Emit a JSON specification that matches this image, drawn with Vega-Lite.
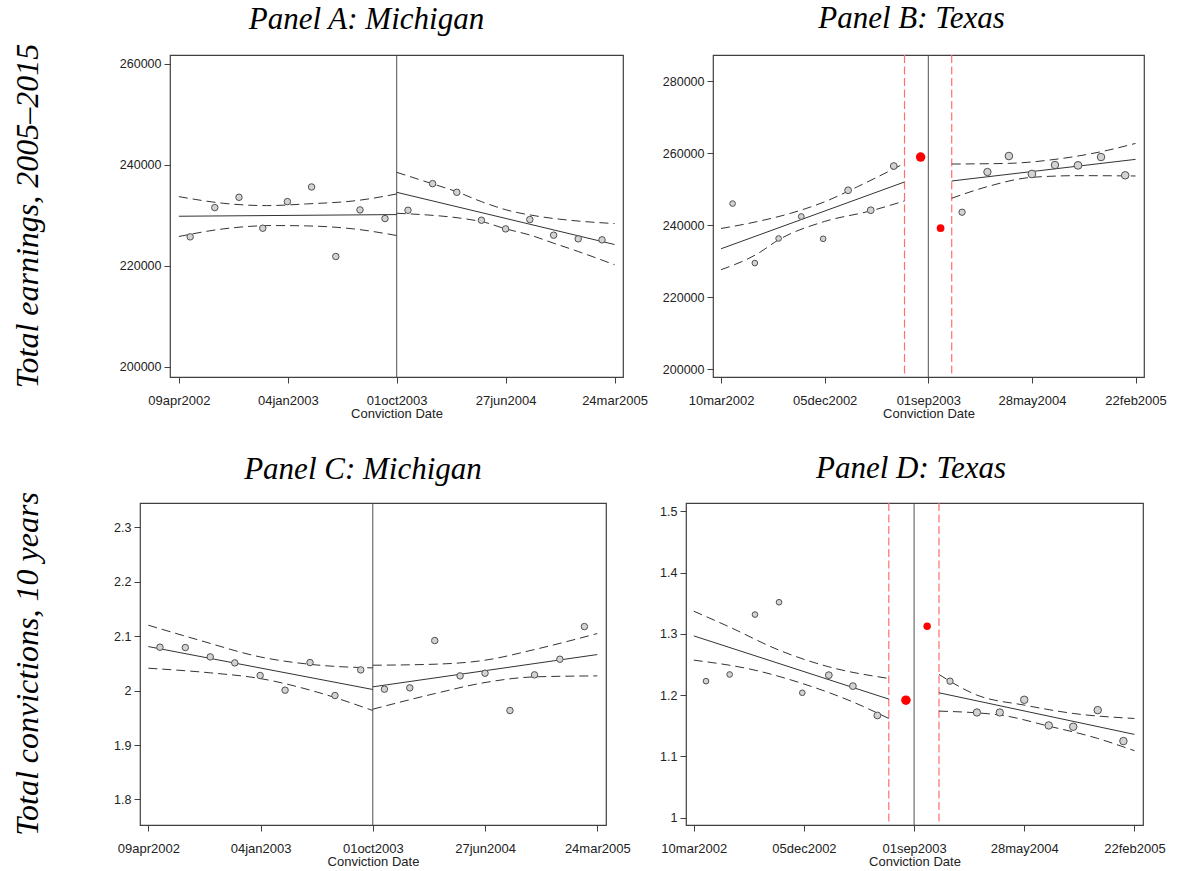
{
  "$schema": "https://vega.github.io/schema/vega-lite/v6.json",
  "background": "white",
  "padding": {"left": 11, "top": 2, "right": 5, "bottom": 0},
  "config": {
    "view": {"stroke": "#404040", "strokeWidth": 1.2},
    "title": {"font": "Liberation Serif", "fontStyle": "italic", "fontWeight": "normal", "fontSize": 31, "color": "#000000", "anchor": "middle", "baseline": "alphabetic", "frame": "group"},
    "axis": {"labelFont": "Liberation Sans", "labelFontSize": 13, "labelColor": "#222222", "tickColor": "#404040", "tickSize": 6, "domain": false, "grid": false, "titleFontWeight": "normal"},
    "axisX": {"labelPadding": 11, "titlePadding": 0, "titleFont": "Liberation Sans", "titleFontSize": 13, "titleColor": "#222222", "labelFlush": false, "labelOverlap": false},
    "axisY": {"labelPadding": 3, "labelFontSize": 12.5, "title": null}
  },
  "datasets": {
    "empty": [],
    "vlines": [
      {"panel": "A", "kind": "cutoff", "date": "2003-10-01"},
      {"panel": "C", "kind": "cutoff", "date": "2003-10-01"},
      {"panel": "B", "kind": "cutoff", "date": "2003-09-01"},
      {"panel": "B", "kind": "donut", "date": "2003-07-01"},
      {"panel": "B", "kind": "donut", "date": "2003-11-01"},
      {"panel": "D", "kind": "cutoff", "date": "2003-09-01"},
      {"panel": "D", "kind": "donut", "date": "2003-07-01"},
      {"panel": "D", "kind": "donut", "date": "2003-11-01"}
    ],
    "points": [
      {"panel": "A", "group": "main", "date": "2002-05-07", "value": 225724, "weight": 42},
      {"panel": "A", "group": "main", "date": "2002-07-07", "value": 231513, "weight": 42},
      {"panel": "A", "group": "main", "date": "2002-09-05", "value": 233552, "weight": 42},
      {"panel": "A", "group": "main", "date": "2002-11-03", "value": 227434, "weight": 42},
      {"panel": "A", "group": "main", "date": "2003-01-03", "value": 232697, "weight": 42},
      {"panel": "A", "group": "main", "date": "2003-03-04", "value": 235592, "weight": 42},
      {"panel": "A", "group": "main", "date": "2003-05-03", "value": 221842, "weight": 42},
      {"panel": "A", "group": "main", "date": "2003-07-02", "value": 231052, "weight": 42},
      {"panel": "A", "group": "main", "date": "2003-09-02", "value": 229342, "weight": 42},
      {"panel": "A", "group": "main", "date": "2003-10-29", "value": 230987, "weight": 42},
      {"panel": "A", "group": "main", "date": "2003-12-29", "value": 236250, "weight": 42},
      {"panel": "A", "group": "main", "date": "2004-02-27", "value": 234539, "weight": 42},
      {"panel": "A", "group": "main", "date": "2004-04-28", "value": 229013, "weight": 42},
      {"panel": "A", "group": "main", "date": "2004-06-27", "value": 227302, "weight": 42},
      {"panel": "A", "group": "main", "date": "2004-08-26", "value": 229145, "weight": 42},
      {"panel": "A", "group": "main", "date": "2004-10-24", "value": 226053, "weight": 42},
      {"panel": "A", "group": "main", "date": "2004-12-24", "value": 225329, "weight": 42},
      {"panel": "A", "group": "main", "date": "2005-02-21", "value": 225132, "weight": 42},
      {"panel": "C", "group": "main", "date": "2002-05-07", "value": 2.0797, "weight": 42},
      {"panel": "C", "group": "main", "date": "2002-07-07", "value": 2.0791, "weight": 42},
      {"panel": "C", "group": "main", "date": "2002-09-05", "value": 2.0619, "weight": 42},
      {"panel": "C", "group": "main", "date": "2002-11-03", "value": 2.0509, "weight": 42},
      {"panel": "C", "group": "main", "date": "2003-01-03", "value": 2.0277, "weight": 42},
      {"panel": "C", "group": "main", "date": "2003-03-04", "value": 2.0007, "weight": 42},
      {"panel": "C", "group": "main", "date": "2003-05-03", "value": 2.0515, "weight": 42},
      {"panel": "C", "group": "main", "date": "2003-07-02", "value": 1.9909, "weight": 42},
      {"panel": "C", "group": "main", "date": "2003-09-02", "value": 2.038, "weight": 42},
      {"panel": "C", "group": "main", "date": "2003-10-29", "value": 2.0026, "weight": 42},
      {"panel": "C", "group": "main", "date": "2003-12-29", "value": 2.005, "weight": 42},
      {"panel": "C", "group": "main", "date": "2004-02-27", "value": 2.0919, "weight": 42},
      {"panel": "C", "group": "main", "date": "2004-04-28", "value": 2.027, "weight": 42},
      {"panel": "C", "group": "main", "date": "2004-06-27", "value": 2.0319, "weight": 42},
      {"panel": "C", "group": "main", "date": "2004-08-26", "value": 1.9634, "weight": 42},
      {"panel": "C", "group": "main", "date": "2004-10-24", "value": 2.0289, "weight": 42},
      {"panel": "C", "group": "main", "date": "2004-12-24", "value": 2.0576, "weight": 42},
      {"panel": "C", "group": "main", "date": "2005-02-21", "value": 2.1176, "weight": 42},
      {"panel": "B", "group": "main", "date": "2002-04-09", "value": 246004, "weight": 32},
      {"panel": "B", "group": "main", "date": "2002-06-06", "value": 229468, "weight": 32},
      {"panel": "B", "group": "main", "date": "2002-08-07", "value": 236305, "weight": 32},
      {"panel": "B", "group": "main", "date": "2002-10-05", "value": 242401, "weight": 34},
      {"panel": "B", "group": "main", "date": "2002-12-01", "value": 236212, "weight": 32},
      {"panel": "B", "group": "main", "date": "2003-02-04", "value": 249699, "weight": 46},
      {"panel": "B", "group": "main", "date": "2003-04-04", "value": 244157, "weight": 46},
      {"panel": "B", "group": "main", "date": "2003-06-03", "value": 256443, "weight": 46},
      {"panel": "B", "group": "donut", "date": "2003-08-12", "value": 258937, "weight": 90},
      {"panel": "B", "group": "donut", "date": "2003-10-03", "value": 239168, "weight": 59},
      {"panel": "B", "group": "main", "date": "2003-11-28", "value": 243602, "weight": 40},
      {"panel": "B", "group": "main", "date": "2004-02-02", "value": 254780, "weight": 54},
      {"panel": "B", "group": "main", "date": "2004-03-29", "value": 259215, "weight": 58},
      {"panel": "B", "group": "main", "date": "2004-05-28", "value": 254226, "weight": 60},
      {"panel": "B", "group": "main", "date": "2004-07-27", "value": 256720, "weight": 56},
      {"panel": "B", "group": "main", "date": "2004-09-25", "value": 256628, "weight": 60},
      {"panel": "B", "group": "main", "date": "2004-11-24", "value": 258937, "weight": 56},
      {"panel": "B", "group": "main", "date": "2005-01-26", "value": 253857, "weight": 56},
      {"panel": "D", "group": "main", "date": "2002-04-09", "value": 1.2228, "weight": 32},
      {"panel": "D", "group": "main", "date": "2002-06-06", "value": 1.2337, "weight": 32},
      {"panel": "D", "group": "main", "date": "2002-08-07", "value": 1.3315, "weight": 32},
      {"panel": "D", "group": "main", "date": "2002-10-05", "value": 1.3516, "weight": 32},
      {"panel": "D", "group": "main", "date": "2002-12-01", "value": 1.2038, "weight": 32},
      {"panel": "D", "group": "main", "date": "2003-02-04", "value": 1.2326, "weight": 46},
      {"panel": "D", "group": "main", "date": "2003-04-04", "value": 1.2147, "weight": 46},
      {"panel": "D", "group": "main", "date": "2003-06-03", "value": 1.1668, "weight": 46},
      {"panel": "D", "group": "donut", "date": "2003-08-12", "value": 1.1918, "weight": 90},
      {"panel": "D", "group": "donut", "date": "2003-10-03", "value": 1.3125, "weight": 55},
      {"panel": "D", "group": "main", "date": "2003-11-28", "value": 1.2228, "weight": 40},
      {"panel": "D", "group": "main", "date": "2004-02-02", "value": 1.1717, "weight": 54},
      {"panel": "D", "group": "main", "date": "2004-03-29", "value": 1.1717, "weight": 54},
      {"panel": "D", "group": "main", "date": "2004-05-28", "value": 1.1924, "weight": 56},
      {"panel": "D", "group": "main", "date": "2004-07-27", "value": 1.1505, "weight": 56},
      {"panel": "D", "group": "main", "date": "2004-09-25", "value": 1.1484, "weight": 56},
      {"panel": "D", "group": "main", "date": "2004-11-24", "value": 1.1755, "weight": 56},
      {"panel": "D", "group": "main", "date": "2005-01-26", "value": 1.125, "weight": 56}
    ],
    "lines": [
      {"panel": "A", "seg": "pre", "band": "fit", "date": "2002-04-09", "value": 229802},
      {"panel": "A", "seg": "pre", "band": "fit", "date": "2003-10-01", "value": 230131},
      {"panel": "A", "seg": "pre", "band": "upper", "date": "2002-04-09", "value": 233684},
      {"panel": "A", "seg": "pre", "band": "upper", "date": "2002-07-28", "value": 232368},
      {"panel": "A", "seg": "pre", "band": "upper", "date": "2002-11-12", "value": 231908},
      {"panel": "A", "seg": "pre", "band": "upper", "date": "2003-02-19", "value": 232237},
      {"panel": "A", "seg": "pre", "band": "upper", "date": "2003-06-23", "value": 232895},
      {"panel": "A", "seg": "pre", "band": "upper", "date": "2003-10-01", "value": 234211},
      {"panel": "A", "seg": "pre", "band": "lower", "date": "2002-04-09", "value": 225789},
      {"panel": "A", "seg": "pre", "band": "lower", "date": "2002-07-28", "value": 227303},
      {"panel": "A", "seg": "pre", "band": "lower", "date": "2002-11-29", "value": 227961},
      {"panel": "A", "seg": "pre", "band": "lower", "date": "2003-02-19", "value": 227895},
      {"panel": "A", "seg": "pre", "band": "lower", "date": "2003-06-23", "value": 227237},
      {"panel": "A", "seg": "pre", "band": "lower", "date": "2003-10-01", "value": 225987},
      {"panel": "A", "seg": "post", "band": "fit", "date": "2003-10-01", "value": 234539},
      {"panel": "A", "seg": "post", "band": "fit", "date": "2005-03-24", "value": 224210},
      {"panel": "A", "seg": "post", "band": "upper", "date": "2003-10-01", "value": 238487},
      {"panel": "A", "seg": "post", "band": "upper", "date": "2003-12-30", "value": 236184},
      {"panel": "A", "seg": "post", "band": "upper", "date": "2004-02-26", "value": 234671},
      {"panel": "A", "seg": "post", "band": "upper", "date": "2004-04-28", "value": 232697},
      {"panel": "A", "seg": "post", "band": "upper", "date": "2004-06-29", "value": 231052},
      {"panel": "A", "seg": "post", "band": "upper", "date": "2004-09-20", "value": 229737},
      {"panel": "A", "seg": "post", "band": "upper", "date": "2004-12-11", "value": 228947},
      {"panel": "A", "seg": "post", "band": "upper", "date": "2005-03-24", "value": 228355},
      {"panel": "A", "seg": "post", "band": "lower", "date": "2003-10-01", "value": 230395},
      {"panel": "A", "seg": "post", "band": "lower", "date": "2004-04-28", "value": 228750},
      {"panel": "A", "seg": "post", "band": "lower", "date": "2004-06-27", "value": 227303},
      {"panel": "A", "seg": "post", "band": "lower", "date": "2004-08-25", "value": 226119},
      {"panel": "A", "seg": "post", "band": "lower", "date": "2004-10-24", "value": 224474},
      {"panel": "A", "seg": "post", "band": "lower", "date": "2004-12-24", "value": 222829},
      {"panel": "A", "seg": "post", "band": "lower", "date": "2005-03-24", "value": 220197},
      {"panel": "B", "seg": "pre", "band": "fit", "date": "2002-03-10", "value": 233440},
      {"panel": "B", "seg": "pre", "band": "fit", "date": "2003-07-01", "value": 252009},
      {"panel": "B", "seg": "pre", "band": "upper", "date": "2002-03-10", "value": 239076},
      {"panel": "B", "seg": "pre", "band": "upper", "date": "2002-06-13", "value": 241016},
      {"panel": "B", "seg": "pre", "band": "upper", "date": "2002-09-08", "value": 243325},
      {"panel": "B", "seg": "pre", "band": "upper", "date": "2002-12-04", "value": 246466},
      {"panel": "B", "seg": "pre", "band": "upper", "date": "2003-03-01", "value": 250716},
      {"panel": "B", "seg": "pre", "band": "upper", "date": "2003-07-01", "value": 257182},
      {"panel": "B", "seg": "pre", "band": "lower", "date": "2002-03-10", "value": 227620},
      {"panel": "B", "seg": "pre", "band": "lower", "date": "2002-06-13", "value": 232055},
      {"panel": "B", "seg": "pre", "band": "lower", "date": "2002-08-07", "value": 235934},
      {"panel": "B", "seg": "pre", "band": "lower", "date": "2002-12-04", "value": 241016},
      {"panel": "B", "seg": "pre", "band": "lower", "date": "2003-04-04", "value": 243972},
      {"panel": "B", "seg": "pre", "band": "lower", "date": "2003-07-01", "value": 246743},
      {"panel": "B", "seg": "post", "band": "fit", "date": "2003-11-01", "value": 252286},
      {"panel": "B", "seg": "post", "band": "fit", "date": "2005-02-22", "value": 258291},
      {"panel": "B", "seg": "post", "band": "upper", "date": "2003-11-01", "value": 256997},
      {"panel": "B", "seg": "post", "band": "upper", "date": "2004-03-29", "value": 257182},
      {"panel": "B", "seg": "post", "band": "upper", "date": "2004-07-27", "value": 258291},
      {"panel": "B", "seg": "post", "band": "upper", "date": "2004-11-24", "value": 260415},
      {"panel": "B", "seg": "post", "band": "upper", "date": "2005-02-22", "value": 262725},
      {"panel": "B", "seg": "post", "band": "lower", "date": "2003-11-01", "value": 247482},
      {"panel": "B", "seg": "post", "band": "lower", "date": "2004-02-02", "value": 250716},
      {"panel": "B", "seg": "post", "band": "lower", "date": "2004-05-28", "value": 253302},
      {"panel": "B", "seg": "post", "band": "lower", "date": "2004-09-26", "value": 253764},
      {"panel": "B", "seg": "post", "band": "lower", "date": "2005-02-22", "value": 253672},
      {"panel": "C", "seg": "pre", "band": "fit", "date": "2002-04-09", "value": 2.0809},
      {"panel": "C", "seg": "pre", "band": "fit", "date": "2003-10-01", "value": 2.002},
      {"panel": "C", "seg": "pre", "band": "upper", "date": "2002-04-09", "value": 2.1201},
      {"panel": "C", "seg": "pre", "band": "upper", "date": "2002-08-10", "value": 2.0925},
      {"panel": "C", "seg": "pre", "band": "upper", "date": "2003-01-03", "value": 2.0619},
      {"panel": "C", "seg": "pre", "band": "upper", "date": "2003-05-17", "value": 2.0472},
      {"panel": "C", "seg": "pre", "band": "upper", "date": "2003-10-01", "value": 2.0417},
      {"panel": "C", "seg": "pre", "band": "lower", "date": "2002-04-09", "value": 2.0411},
      {"panel": "C", "seg": "pre", "band": "lower", "date": "2002-09-05", "value": 2.0326},
      {"panel": "C", "seg": "pre", "band": "lower", "date": "2003-01-03", "value": 2.0222},
      {"panel": "C", "seg": "pre", "band": "lower", "date": "2003-05-04", "value": 2.0007},
      {"panel": "C", "seg": "pre", "band": "lower", "date": "2003-10-01", "value": 1.9634},
      {"panel": "C", "seg": "post", "band": "fit", "date": "2003-10-01", "value": 2.0069},
      {"panel": "C", "seg": "post", "band": "fit", "date": "2005-03-24", "value": 2.0662},
      {"panel": "C", "seg": "post", "band": "upper", "date": "2003-10-01", "value": 2.0466},
      {"panel": "C", "seg": "post", "band": "upper", "date": "2004-02-28", "value": 2.0485},
      {"panel": "C", "seg": "post", "band": "upper", "date": "2004-06-27", "value": 2.0558},
      {"panel": "C", "seg": "post", "band": "upper", "date": "2004-10-24", "value": 2.0754},
      {"panel": "C", "seg": "post", "band": "upper", "date": "2005-03-24", "value": 2.1048},
      {"panel": "C", "seg": "post", "band": "lower", "date": "2003-10-01", "value": 1.9658},
      {"panel": "C", "seg": "post", "band": "lower", "date": "2004-02-28", "value": 1.9946},
      {"panel": "C", "seg": "post", "band": "lower", "date": "2004-06-27", "value": 2.0148},
      {"panel": "C", "seg": "post", "band": "lower", "date": "2004-10-24", "value": 2.0252},
      {"panel": "C", "seg": "post", "band": "lower", "date": "2005-03-24", "value": 2.027},
      {"panel": "D", "seg": "pre", "band": "fit", "date": "2002-03-10", "value": 1.2967},
      {"panel": "D", "seg": "pre", "band": "fit", "date": "2003-07-01", "value": 1.1935},
      {"panel": "D", "seg": "pre", "band": "upper", "date": "2002-03-10", "value": 1.337},
      {"panel": "D", "seg": "pre", "band": "upper", "date": "2002-06-05", "value": 1.3114},
      {"panel": "D", "seg": "pre", "band": "upper", "date": "2002-10-05", "value": 1.2734},
      {"panel": "D", "seg": "pre", "band": "upper", "date": "2003-02-04", "value": 1.2462},
      {"panel": "D", "seg": "pre", "band": "upper", "date": "2003-07-01", "value": 1.2272},
      {"panel": "D", "seg": "pre", "band": "lower", "date": "2002-03-10", "value": 1.2571},
      {"panel": "D", "seg": "pre", "band": "lower", "date": "2002-08-07", "value": 1.2407},
      {"panel": "D", "seg": "pre", "band": "lower", "date": "2002-12-01", "value": 1.219},
      {"panel": "D", "seg": "pre", "band": "lower", "date": "2003-04-03", "value": 1.1891},
      {"panel": "D", "seg": "pre", "band": "lower", "date": "2003-07-01", "value": 1.1619},
      {"panel": "D", "seg": "post", "band": "fit", "date": "2003-11-01", "value": 1.2038},
      {"panel": "D", "seg": "post", "band": "fit", "date": "2005-02-22", "value": 1.1359},
      {"panel": "D", "seg": "post", "band": "upper", "date": "2003-11-01", "value": 1.2337},
      {"panel": "D", "seg": "post", "band": "upper", "date": "2004-02-02", "value": 1.2},
      {"panel": "D", "seg": "post", "band": "upper", "date": "2004-05-28", "value": 1.1837},
      {"panel": "D", "seg": "post", "band": "upper", "date": "2004-09-25", "value": 1.1701},
      {"panel": "D", "seg": "post", "band": "upper", "date": "2005-02-22", "value": 1.1619},
      {"panel": "D", "seg": "post", "band": "lower", "date": "2003-11-01", "value": 1.1739},
      {"panel": "D", "seg": "post", "band": "lower", "date": "2004-03-30", "value": 1.1674},
      {"panel": "D", "seg": "post", "band": "lower", "date": "2004-07-27", "value": 1.1494},
      {"panel": "D", "seg": "post", "band": "lower", "date": "2004-11-24", "value": 1.1293},
      {"panel": "D", "seg": "post", "band": "lower", "date": "2005-02-22", "value": 1.1092}
    ]
  },
  "spacing": 31,
  "vconcat": [
    {
      "spacing": 12,
      "hconcat": [
        {
          "width": 53.5, "height": 322,
          "data": {"name": "empty"},
          "mark": {"type": "point"},
          "encoding": {},
          "view": {"stroke": null, "fill": "white"},
          "title": {"text": "Total earnings, 2005–2015", "orient": "left", "anchor": "middle", "offset": 7, "fontSize": 32}
        },
        {
          "width": 453, "height": 322,
          "title": {"text": "Panel A: Michigan", "dx": -30, "offset": 19},
          "encoding": {"x": {"field": "date", "type": "temporal",
            "scale": {"type": "utc", "domain": [{"year": 2002, "month": 3, "date": 18, "utc": true}, {"year": 2005, "month": 4, "date": 14, "utc": true}]},
            "axis": {"title": "Conviction Date", "values": [{"year": 2002, "month": 4, "date": 9, "utc": true}, {"year": 2003, "month": 1, "date": 4, "utc": true}, {"year": 2003, "month": 10, "date": 1, "utc": true}, {"year": 2004, "month": 6, "date": 27, "utc": true}, {"year": 2005, "month": 3, "date": 24, "utc": true}], "labelExpr": "lower(utcFormat(datum.value, '%d%b%Y'))"}}},
          "layer": [
            {"data": {"name": "vlines"}, "transform": [{"filter": "datum.panel === 'A'"}],
             "mark": {"type": "rule", "color": "#505050", "strokeWidth": 1}, "encoding": {}},
            {"data": {"name": "lines"}, "transform": [{"filter": "datum.panel === 'A' && datum.band !== 'fit'"}],
             "mark": {"type": "line", "color": "#333333", "strokeWidth": 1, "strokeDash": [9, 5], "interpolate": "monotone"},
             "encoding": {"y": {"field": "value", "type": "quantitative", "scale": {"domain": [198000, 261700], "zero": false, "nice": false}, "axis": {"title": null, "values": [200000, 220000, 240000, 260000], "format": "d"}},
               "detail": [{"field": "seg"}, {"field": "band"}]}},
            {"data": {"name": "lines"}, "transform": [{"filter": "datum.panel === 'A' && datum.band === 'fit'"}],
             "mark": {"type": "line", "color": "#333333", "strokeWidth": 1},
             "encoding": {"y": {"field": "value", "type": "quantitative", "scale": {"domain": [198000, 261700], "zero": false, "nice": false}, "axis": {"title": null, "values": [200000, 220000, 240000, 260000], "format": "d"}},
               "detail": {"field": "seg"}}},
            {"data": {"name": "points"}, "transform": [{"filter": "datum.panel === 'A'"}],
             "mark": {"type": "circle", "fill": "#d3d3d3", "stroke": "#505050", "strokeWidth": 1, "fillOpacity": 1, "opacity": 1},
             "encoding": {"y": {"field": "value", "type": "quantitative", "scale": {"domain": [198000, 261700], "zero": false, "nice": false}, "axis": {"title": null, "values": [200000, 220000, 240000, 260000], "format": "d"}},
               "size": {"field": "weight", "type": "quantitative", "scale": {"domain": [0, 100], "range": [0, 100]}, "legend": null}}}
          ]
        },
        {
          "width": 431, "height": 322,
          "title": {"text": "Panel B: Texas", "dx": -17, "offset": 19},
          "encoding": {"x": {"field": "date", "type": "temporal",
            "scale": {"type": "utc", "domain": [{"year": 2002, "month": 2, "date": 17, "utc": true}, {"year": 2005, "month": 3, "date": 16, "utc": true}]},
            "axis": {"title": "Conviction Date", "values": [{"year": 2002, "month": 3, "date": 10, "utc": true}, {"year": 2002, "month": 12, "date": 5, "utc": true}, {"year": 2003, "month": 9, "date": 1, "utc": true}, {"year": 2004, "month": 5, "date": 28, "utc": true}, {"year": 2005, "month": 2, "date": 22, "utc": true}], "labelExpr": "lower(utcFormat(datum.value, '%d%b%Y'))"}}},
          "layer": [
            {"data": {"name": "vlines"}, "transform": [{"filter": "datum.panel === 'B' && datum.kind === 'cutoff'"}],
             "mark": {"type": "rule", "color": "#505050", "strokeWidth": 1}, "encoding": {}},
            {"data": {"name": "vlines"}, "transform": [{"filter": "datum.panel === 'B' && datum.kind === 'donut'"}],
             "mark": {"type": "rule", "color": "#ff6f6f", "strokeWidth": 1.2, "strokeDash": [8, 3.5]}, "encoding": {}},
            {"data": {"name": "lines"}, "transform": [{"filter": "datum.panel === 'B' && datum.band !== 'fit'"}],
             "mark": {"type": "line", "color": "#333333", "strokeWidth": 1, "strokeDash": [9, 5], "interpolate": "monotone"},
             "encoding": {"y": {"field": "value", "type": "quantitative", "scale": {"domain": [197800, 287300], "zero": false, "nice": false}, "axis": {"title": null, "values": [200000, 220000, 240000, 260000, 280000], "format": "d"}},
               "detail": [{"field": "seg"}, {"field": "band"}]}},
            {"data": {"name": "lines"}, "transform": [{"filter": "datum.panel === 'B' && datum.band === 'fit'"}],
             "mark": {"type": "line", "color": "#333333", "strokeWidth": 1},
             "encoding": {"y": {"field": "value", "type": "quantitative", "scale": {"domain": [197800, 287300], "zero": false, "nice": false}, "axis": {"title": null, "values": [200000, 220000, 240000, 260000, 280000], "format": "d"}},
               "detail": {"field": "seg"}}},
            {"data": {"name": "points"}, "transform": [{"filter": "datum.panel === 'B' && datum.group === 'main'"}],
             "mark": {"type": "circle", "fill": "#d3d3d3", "stroke": "#505050", "strokeWidth": 1, "fillOpacity": 1, "opacity": 1},
             "encoding": {"y": {"field": "value", "type": "quantitative", "scale": {"domain": [197800, 287300], "zero": false, "nice": false}, "axis": {"title": null, "values": [200000, 220000, 240000, 260000, 280000], "format": "d"}},
               "size": {"field": "weight", "type": "quantitative", "scale": {"domain": [0, 100], "range": [0, 100]}, "legend": null}}},
            {"data": {"name": "points"}, "transform": [{"filter": "datum.panel === 'B' && datum.group === 'donut'"}],
             "mark": {"type": "circle", "fill": "#ff0000", "fillOpacity": 1, "opacity": 1},
             "encoding": {"y": {"field": "value", "type": "quantitative", "scale": {"domain": [197800, 287300], "zero": false, "nice": false}, "axis": {"title": null, "values": [200000, 220000, 240000, 260000, 280000], "format": "d"}},
               "size": {"field": "weight", "type": "quantitative", "scale": {"domain": [0, 100], "range": [0, 100]}, "legend": null}}}
          ]
        }
      ]
    },
    {
      "spacing": 28,
      "hconcat": [
        {
          "width": 33, "height": 322,
          "data": {"name": "empty"},
          "mark": {"type": "point"},
          "encoding": {},
          "view": {"stroke": null, "fill": "white"},
          "title": {"text": "Total convictions, 10 years", "orient": "left", "anchor": "middle", "offset": 7, "fontSize": 32}
        },
        {
          "width": 466, "height": 322,
          "title": {"text": "Panel C: Michigan", "dx": -10, "offset": 17},
          "encoding": {"x": {"field": "date", "type": "temporal",
            "scale": {"type": "utc", "domain": [{"year": 2002, "month": 3, "date": 20, "utc": true}, {"year": 2005, "month": 4, "date": 14, "utc": true}]},
            "axis": {"title": "Conviction Date", "values": [{"year": 2002, "month": 4, "date": 9, "utc": true}, {"year": 2003, "month": 1, "date": 4, "utc": true}, {"year": 2003, "month": 10, "date": 1, "utc": true}, {"year": 2004, "month": 6, "date": 27, "utc": true}, {"year": 2005, "month": 3, "date": 24, "utc": true}], "labelExpr": "lower(utcFormat(datum.value, '%d%b%Y'))"}}},
          "layer": [
            {"data": {"name": "vlines"}, "transform": [{"filter": "datum.panel === 'C'"}],
             "mark": {"type": "rule", "color": "#505050", "strokeWidth": 1}, "encoding": {}},
            {"data": {"name": "lines"}, "transform": [{"filter": "datum.panel === 'C' && datum.band !== 'fit'"}],
             "mark": {"type": "line", "color": "#333333", "strokeWidth": 1, "strokeDash": [9, 5], "interpolate": "monotone"},
             "encoding": {"y": {"field": "value", "type": "quantitative", "scale": {"domain": [1.753, 2.3447], "zero": false, "nice": false}, "axis": {"title": null, "values": [1.8, 1.9, 2.0, 2.1, 2.2, 2.3], "format": "~g"}},
               "detail": [{"field": "seg"}, {"field": "band"}]}},
            {"data": {"name": "lines"}, "transform": [{"filter": "datum.panel === 'C' && datum.band === 'fit'"}],
             "mark": {"type": "line", "color": "#333333", "strokeWidth": 1},
             "encoding": {"y": {"field": "value", "type": "quantitative", "scale": {"domain": [1.753, 2.3447], "zero": false, "nice": false}, "axis": {"title": null, "values": [1.8, 1.9, 2.0, 2.1, 2.2, 2.3], "format": "~g"}},
               "detail": {"field": "seg"}}},
            {"data": {"name": "points"}, "transform": [{"filter": "datum.panel === 'C'"}],
             "mark": {"type": "circle", "fill": "#d3d3d3", "stroke": "#505050", "strokeWidth": 1, "fillOpacity": 1, "opacity": 1},
             "encoding": {"y": {"field": "value", "type": "quantitative", "scale": {"domain": [1.753, 2.3447], "zero": false, "nice": false}, "axis": {"title": null, "values": [1.8, 1.9, 2.0, 2.1, 2.2, 2.3], "format": "~g"}},
               "size": {"field": "weight", "type": "quantitative", "scale": {"domain": [0, 100], "range": [0, 100]}, "legend": null}}}
          ]
        },
        {
          "width": 457, "height": 322,
          "title": {"text": "Panel D: Texas", "dx": -3.5, "offset": 17},
          "encoding": {"x": {"field": "date", "type": "temporal",
            "scale": {"type": "utc", "domain": [{"year": 2002, "month": 2, "date": 19, "utc": true}, {"year": 2005, "month": 3, "date": 15, "utc": true}]},
            "axis": {"title": "Conviction Date", "values": [{"year": 2002, "month": 3, "date": 10, "utc": true}, {"year": 2002, "month": 12, "date": 5, "utc": true}, {"year": 2003, "month": 9, "date": 1, "utc": true}, {"year": 2004, "month": 5, "date": 28, "utc": true}, {"year": 2005, "month": 2, "date": 22, "utc": true}], "labelExpr": "lower(utcFormat(datum.value, '%d%b%Y'))"}}},
          "layer": [
            {"data": {"name": "vlines"}, "transform": [{"filter": "datum.panel === 'D' && datum.kind === 'cutoff'"}],
             "mark": {"type": "rule", "color": "#505050", "strokeWidth": 1}, "encoding": {}},
            {"data": {"name": "vlines"}, "transform": [{"filter": "datum.panel === 'D' && datum.kind === 'donut'"}],
             "mark": {"type": "rule", "color": "#ff6f6f", "strokeWidth": 1.2, "strokeDash": [8, 3.5]}, "encoding": {}},
            {"data": {"name": "lines"}, "transform": [{"filter": "datum.panel === 'D' && datum.band !== 'fit'"}],
             "mark": {"type": "line", "color": "#333333", "strokeWidth": 1, "strokeDash": [9, 5], "interpolate": "monotone"},
             "encoding": {"y": {"field": "value", "type": "quantitative", "scale": {"domain": [0.988, 1.5136], "zero": false, "nice": false}, "axis": {"title": null, "values": [1.0, 1.1, 1.2, 1.3, 1.4, 1.5], "format": "~g"}},
               "detail": [{"field": "seg"}, {"field": "band"}]}},
            {"data": {"name": "lines"}, "transform": [{"filter": "datum.panel === 'D' && datum.band === 'fit'"}],
             "mark": {"type": "line", "color": "#333333", "strokeWidth": 1},
             "encoding": {"y": {"field": "value", "type": "quantitative", "scale": {"domain": [0.988, 1.5136], "zero": false, "nice": false}, "axis": {"title": null, "values": [1.0, 1.1, 1.2, 1.3, 1.4, 1.5], "format": "~g"}},
               "detail": {"field": "seg"}}},
            {"data": {"name": "points"}, "transform": [{"filter": "datum.panel === 'D' && datum.group === 'main'"}],
             "mark": {"type": "circle", "fill": "#d3d3d3", "stroke": "#505050", "strokeWidth": 1, "fillOpacity": 1, "opacity": 1},
             "encoding": {"y": {"field": "value", "type": "quantitative", "scale": {"domain": [0.988, 1.5136], "zero": false, "nice": false}, "axis": {"title": null, "values": [1.0, 1.1, 1.2, 1.3, 1.4, 1.5], "format": "~g"}},
               "size": {"field": "weight", "type": "quantitative", "scale": {"domain": [0, 100], "range": [0, 100]}, "legend": null}}},
            {"data": {"name": "points"}, "transform": [{"filter": "datum.panel === 'D' && datum.group === 'donut'"}],
             "mark": {"type": "circle", "fill": "#ff0000", "fillOpacity": 1, "opacity": 1},
             "encoding": {"y": {"field": "value", "type": "quantitative", "scale": {"domain": [0.988, 1.5136], "zero": false, "nice": false}, "axis": {"title": null, "values": [1.0, 1.1, 1.2, 1.3, 1.4, 1.5], "format": "~g"}},
               "size": {"field": "weight", "type": "quantitative", "scale": {"domain": [0, 100], "range": [0, 100]}, "legend": null}}}
          ]
        }
      ]
    }
  ]
}
